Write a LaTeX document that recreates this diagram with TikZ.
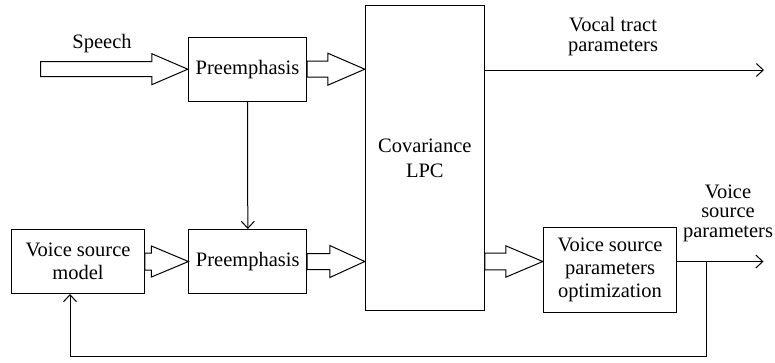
\documentclass[tikz,border=0pt]{standalone}
\usepackage{fontspec}
\setmainfont{Liberation Serif}
\newfontfamily\diagfont{Liberation Serif}
\usetikzlibrary{calc,arrows.meta}
\newcommand\hollowarr[5]{%
  \draw[hollowsty] let \p1=(#1), \p2=(#2) in
    (\x1,\y2+#3) -- (\x2-#5,\y2+#3) -- (\x2-#5,\y2+#4) -- (\x2,\y2)
    -- (\x2-#5,\y2-#4) -- (\x2-#5,\y2-#3) -- (\x1,\y2-#3) -- cycle;}
\begin{document}
\begin{tikzpicture}[x=1pt,y=-1pt,line width=1pt,
  every node/.style={font=\diagfont\fontsize{20.5}{23}\selectfont,inner sep=0pt},
  box/.style={draw,align=center},
  lbl/.style={align=center,font=\diagfont\fontsize{20.5}{19.5}\selectfont},
  hollowsty/.style={draw,fill=white,line join=miter},
  arr/.style={-{Straight Barb[length=7pt,width=13pt]}}]
\useasboundingbox (0,0) rectangle (775,362);
% boxes
\node[box,minimum width=118.4pt,minimum height=63.7pt] (pre1) at (247.5,69.2) {Preemphasis};
\node[box,minimum width=117.7pt,minimum height=64pt] (pre2) at (247.8,261.5) {Preemphasis};
\node[box,minimum width=132.6pt,minimum height=64pt] (vsm) at (78,261.5) {Voice source\\model};
\node[box,minimum width=119pt,minimum height=304.3pt,font=\diagfont\fontsize{20.5}{25}\selectfont] (lpc) at (424.8,158) {Covariance\\LPC};
\node[box,minimum width=133.4pt,minimum height=85pt] (vspo) at (610,269.8) {Voice source\\parameters\\optimization};
% labels
\node[anchor=base] (speech) at (102,48.3) {Speech};
\node[lbl] (vtp) at (613,36.5) {Vocal tract\\parameters};
\node[lbl] (vsp) at (728,213) {Voice\\source\\parameters};
% coordinates
\coordinate (spstart) at (40.7,69.2);
\coordinate (row2) at (0,261.5);
\coordinate (vtend) at (764,70);
\coordinate (vsend) at (763.5,261.5);
\coordinate (fb) at (706.7,261.5);
\coordinate (fbcorner) at (70,356.7);
% hollow arrows
\hollowarr{spstart}{pre1.west}{7.5pt}{15.5pt}{36pt}
\hollowarr{pre1.east}{lpc.west |- pre1.east}{8pt}{16pt}{37pt}
\hollowarr{vsm.east}{pre2.west}{8.5pt}{15.5pt}{37pt}
\hollowarr{pre2.east}{lpc.west |- pre2.east}{8pt}{16pt}{35pt}
\hollowarr{lpc.east |- row2}{vspo.west |- row2}{8.3pt}{15.7pt}{37pt}
% line connectors
\draw[arr] (pre1.south) -- (pre2.north);
\draw[arr] (lpc.east |- vtend) -- (vtend);
\draw[arr] (vspo.east |- row2) -- (vsend);
\draw[arr] (fb) |- (fbcorner) -- (vsm.south -| fbcorner);
\end{tikzpicture}
\end{document}
